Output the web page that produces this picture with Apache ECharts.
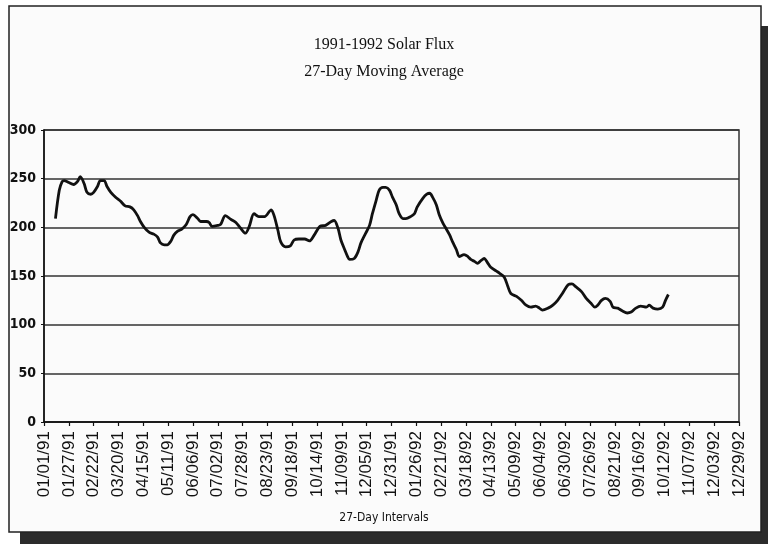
<!DOCTYPE html>
<html>
<head>
<meta charset="utf-8">
<script src="https://cdn.jsdelivr.net/npm/echarts@6/dist/echarts.min.js"></script>
<style>
html,body{margin:0;padding:0;background:#ffffff;}
#chart{width:768px;height:544px;}
</style>
</head>
<body>
<div id="chart"></div>
<script>
const titleLines = ['1991-1992 Solar Flux', '27-Day Moving Average'];
const xAxisTitle = '27-Day Intervals';
const xLabels = ['01/01/91','01/27/91','02/22/91','03/20/91','04/15/91','05/11/91','06/06/91','07/02/91','07/28/91','08/23/91','09/18/91','10/14/91','11/09/91','12/05/91','12/31/91','01/26/92','02/21/92','03/18/92','04/13/92','05/09/92','06/04/92','06/30/92','07/26/92','08/21/92','09/16/92','10/12/92','11/07/92','12/03/92','12/29/92'];
const yTicks = [0, 50, 100, 150, 200, 250, 300];
// day offset from 01/01/91
const days = [12,16,19,21,26,31,35,38,42,45,49,52,56,59,63,66,70,75,80,85,90,94,98,101,105,110,115,119,122,126,129,133,136,140,144,149,153,156,161,164,170,173,176,182,185,190,196,201,206,211,215,220,225,231,238,241,245,248,253,258,262,267,273,278,283,289,295,301,304,308,311,315,318,320,325,329,332,337,341,344,348,351,355,358,362,365,369,372,376,379,384,388,391,397,401,404,407,411,414,418,421,425,428,432,435,440,444,447,451,454,458,461,465,468,474,477,482,486,489,495,500,505,510,515,519,522,528,533,538,543,549,553,557,563,568,573,577,580,584,588,593,596,601,606,611,615,620,625,631,634,638,643,648,651,654];
const flux = [209,238,247,248,246,244,247,252,245,236,234,236,242,248,248,242,236,231,227,222,221,218,212,206,200,195,193,190,184,182,182,186,192,196,198,203,211,213,209,206,206,205,201,202,203,212,208,205,199,194,201,214,211,211,218,212,197,185,180,181,187,188,188,186,192,201,202,206,207,199,187,177,170,167,168,175,184,194,202,214,228,238,241,241,238,231,223,214,209,209,211,214,221,230,234,235,231,223,213,204,199,192,185,177,170,172,170,167,165,163,166,168,163,159,155,153,149,139,132,129,125,120,118,119,117,115,117,120,125,132,141,142,139,134,127,122,118,120,125,127,124,118,117,114,112,113,117,119,118,120,117,116,118,125,131];

const seriesData = days.map((d, i) => [d, flux[i]]);
const chart = echarts.init(document.getElementById('chart'));
const condensed = '"DejaVu Sans Condensed", "Liberation Sans Narrow", "Liberation Sans", sans-serif';
chart.setOption({
  animation: false,
  backgroundColor: '#ffffff',
  graphic: [
    { type: 'rect', z: -10, shape: { x: 761, y: 26, width: 7, height: 518 }, style: { fill: '#2b2b2b' } },
    { type: 'rect', z: -10, shape: { x: 20, y: 532, width: 748, height: 12 }, style: { fill: '#2b2b2b' } },
    { type: 'rect', z: -9, shape: { x: 9, y: 6, width: 752, height: 526 }, style: { fill: '#fbfbfb', stroke: '#222', lineWidth: 1.5 } },
    { type: 'text', left: 'center', top: 37, style: { text: titleLines[0], font: '16px "Liberation Serif", serif', fill: '#111' } },
    { type: 'text', left: 'center', top: 64, style: { text: titleLines[1], font: '16px "Liberation Serif", serif', fill: '#111' } },
    { type: 'text', left: 'center', top: 512, style: { text: xAxisTitle, font: '12px ' + condensed, fill: '#111' } }
  ],
  grid: { left: 44, right: 29, top: 130, bottom: 122, show: true, borderColor: '#333', borderWidth: 1.5, backgroundColor: 'transparent' },
  xAxis: {
    type: 'value', min: 0, max: 728, interval: 26,
    axisLine: { lineStyle: { color: '#111', width: 1.5 } },
    axisTick: { show: true, length: 4, lineStyle: { color: '#111', width: 1.2 } },
    splitLine: { show: false },
    axisLabel: {
      rotate: 90, margin: 9, color: '#111',
      fontFamily: '"Liberation Sans", Arial, sans-serif', fontSize: 17,
      formatter: v => xLabels[Math.round(v / 26)] || ''
    }
  },
  yAxis: {
    type: 'value', min: yTicks[0], max: yTicks[yTicks.length - 1], interval: 50,
    axisLine: { show: true, lineStyle: { color: '#111', width: 1.5 } },
    axisTick: { show: true, length: 3, lineStyle: { color: '#111' } },
    splitLine: { show: true, lineStyle: { color: '#333', width: 1.5 } },
    axisLabel: { margin: 8, color: '#111', fontFamily: condensed, fontSize: 14, fontWeight: 'bold' }
  },
  series: [{
    type: 'line', data: seriesData, showSymbol: false, smooth: 0.3,
    lineStyle: { color: '#111', width: 2.8 }
  }]
});
</script>
</body>
</html>
